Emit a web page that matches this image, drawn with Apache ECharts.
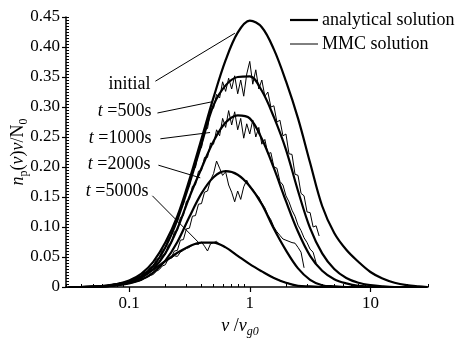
<!DOCTYPE html>
<html><head><meta charset="utf-8">
<script src="https://cdn.jsdelivr.net/npm/echarts@6/dist/echarts.min.js"></script>
<style>html,body{margin:0;padding:0;background:#fff}#c{width:455px;height:343px}</style>
</head><body><div id="c"></div>
<script>
// x positions are log10(v/vg0)
const log10V = [-1.5,-1.4,-1.3,-1.2,-1.1,-1.0,-0.9,-0.8,-0.7,-0.6,-0.5,-0.4,-0.3,-0.2,-0.1,0,0.1,0.2,0.3,0.4,0.5,0.6,0.7,0.8,0.9,1.0,1.1,1.2,1.3,1.4,1.47];
const initial = [0,0,0.001,0.002,0.005,0.011,0.022,0.042,0.074,0.118,0.179,0.247,0.316,0.378,0.424,0.444,0.433,0.396,0.343,0.281,0.207,0.135,0.090,0.062,0.042,0.025,0.014,0.007,0.003,0.001,0];
const t500 = [0,0,0.001,0.002,0.005,0.009,0.018,0.035,0.066,0.112,0.172,0.238,0.303,0.336,0.350,0.351,0.327,0.283,0.229,0.160,0.098,0.056,0.030,0.015,0.007,0.003,0.001,0,0,0,0];
const t1000 = [0,0,0,0.001,0.003,0.007,0.015,0.030,0.056,0.097,0.150,0.198,0.243,0.274,0.286,0.281,0.247,0.198,0.143,0.092,0.052,0.027,0.013,0.006,0.002,0.001,0,0,0,0,0];
const t2000 = [0,0,0,0.001,0.003,0.006,0.012,0.024,0.044,0.075,0.117,0.156,0.183,0.193,0.187,0.168,0.138,0.097,0.061,0.031,0.012,0.003,0.001,0,0,0,0,0,0,0,0];
const t5000 = [0,0,0,0.001,0.004,0.009,0.017,0.029,0.043,0.057,0.068,0.074,0.074,0.066,0.052,0.038,0.026,0.015,0.007,0.002,0.001,0,0,0,0,0,0,0,0,0,0];

const log10VMmc = [-1.2,-1.175,-1.15,-1.125,-1.1,-1.075,-1.05,-1.025,-1.0,-0.975,-0.95,-0.925,-0.9,-0.875,-0.85,-0.825,-0.8,-0.775,-0.75,-0.725,-0.7,-0.675,-0.65,-0.625,-0.6,-0.575,-0.55,-0.525,-0.5,-0.475,-0.45,-0.425,-0.4,-0.375,-0.35,-0.325,-0.3,-0.275,-0.25,-0.225,-0.2,-0.175,-0.15,-0.125,-0.1,-0.075,-0.05,-0.025,0,0.025,0.05,0.075,0.1,0.125,0.15,0.175,0.2,0.225,0.25,0.275,0.3,0.325,0.35,0.375,0.4,0.425,0.45,0.475,0.5,0.525,0.55,0.575,0.6];
const mmc500 = [0.002,0.003,0.003,0.005,0.004,0.007,0.006,0.009,0.008,0.012,0.013,0.018,0.017,0.024,0.025,0.033,0.034,0.046,0.048,0.062,0.064,0.081,0.086,0.105,0.108,0.132,0.138,0.163,0.168,0.194,0.199,0.228,0.232,0.262,0.264,0.294,0.298,0.321,0.315,0.342,0.326,0.348,0.330,0.352,0.322,0.345,0.318,0.355,0.376,0.338,0.362,0.330,0.345,0.318,0.325,0.300,0.302,0.275,0.278,0.252,0.255,0.222,0.221,0.188,0.186,0.156,0.152,0.125,0.124,0.100,0.102,0.085,null];
const mmc1000 = [0.001,0.002,0.002,0.003,0.003,0.005,0.005,0.007,0.007,0.010,0.010,0.014,0.014,0.020,0.021,0.028,0.029,0.039,0.041,0.053,0.054,0.070,0.073,0.092,0.094,0.116,0.119,0.143,0.146,0.168,0.170,0.193,0.194,0.216,0.216,0.240,0.238,0.262,0.252,0.281,0.266,0.294,0.270,0.292,0.262,0.281,0.248,0.272,0.255,0.278,0.250,0.266,0.238,0.246,0.222,0.224,0.200,0.198,0.176,0.170,0.152,0.142,0.128,0.118,0.103,0.094,0.082,0.074,0.063,0.058,0.040,null,null];
const mmc2000 = [0.001,0.001,0.002,0.002,0.003,0.003,0.004,0.005,0.006,0.007,0.008,0.010,0.011,0.014,0.016,0.019,0.021,0.026,0.029,0.035,0.037,0.047,0.049,0.060,0.061,0.078,0.079,0.097,0.098,0.118,0.119,0.138,0.139,0.158,0.160,0.178,0.189,0.210,0.198,0.186,0.192,0.170,0.158,0.142,0.160,0.146,0.167,0.178,0.166,0.163,0.155,0.150,0.140,0.132,0.120,0.112,0.100,0.092,0.086,0.080,0.078,0.076,0.074,0.073,0.066,0.058,0.032,null,null,null,null,null,null];
const mmc5000 = [0.001,0.002,0.002,0.003,0.004,0.005,0.006,0.008,0.009,0.011,0.013,0.015,0.017,0.020,0.022,0.027,0.028,0.034,0.035,0.041,0.042,0.047,0.048,0.052,0.051,0.058,0.061,0.064,0.066,0.070,0.072,0.071,0.075,0.068,0.060,0.072,0.074,0.076,0.071,0.069,0.066,0.063,0.059,0.056,0.052,0.049,0.045,0.042,0.038,0.035,0.032,0.029,0.026,0.023,0.020,0.018,0.015,0.013,0.011,0.009,0.007,0.006,0.004,0.003,0.002,0.002,0.001,0.001,0.001,null,null,null,null];

const xLabelTicks = [0.1, 1, 10];
const xMinorTicks = [0.03,0.04,0.05,0.06,0.07,0.08,0.09,0.2,0.3,0.4,0.5,0.6,0.7,0.8,0.9,2,3,4,5,6,7,8,9,20,30];
const xMin = 0.03, xMax = 30;
const yMin = 0, yMax = 0.45, yStep = 0.05, yMinorStep = 0.005;
const legendNames = ['analytical solution', 'MMC solution'];

const annotations = [
  {text:'initial',            at:[-0.807,0.338], from:[-0.782,0.343], to:[-0.123,0.423]},
  {text:'{i|t} =500s',        at:[-0.798,0.293], from:[-0.765,0.290], to:[-0.305,0.309]},
  {text:'{i|t} =1000s',       at:[-0.798,0.248], from:[-0.741,0.247], to:[-0.329,0.2575]},
  {text:'{i|t} =2000s',       at:[-0.807,0.205], from:[-0.757,0.203], to:[-0.410,0.182]},
  {text:'{i|t} =5000s',       at:[-0.823,0.160], from:[-0.807,0.152], to:[-0.428,0.075]}
];

const FONT = 'Liberation Serif';
const THICK = 2.2, THIN = 1;
const pair = (xs, ys) => xs.map((x,i)=>[x, ys[i]]).filter(p => p[1] !== null);

function analytic(ys, extra) {
  return Object.assign({
    type:'line', name:legendNames[0], data: pair(log10V, ys),
    xAxisIndex:0, yAxisIndex:0, symbol:'none', showSymbol:false, smooth:0.35,
    lineStyle:{color:'#000', width:THICK}, itemStyle:{color:'#000'}, z:4, silent:true
  }, extra || {});
}
function mmc(ys) {
  return {
    type:'line', name:legendNames[1], data: pair(log10VMmc, ys),
    xAxisIndex:0, yAxisIndex:0, symbol:'none', showSymbol:false, smooth:false,
    lineStyle:{color:'#000', width:THIN}, itemStyle:{color:'#000'}, z:3, silent:true
  };
}

const legendGraphic = [];
legendNames.forEach((nm, i) => {
  const y = 20 + i * 24;
  legendGraphic.push({type:'line', shape:{x1:290, y1:y, x2:318, y2:y}, style:{stroke:'#000', lineWidth: i === 0 ? THICK : THIN}, silent:true});
  legendGraphic.push({type:'text', x:322, y:y, style:{text:nm, fontFamily:FONT, fontSize:18, fill:'#000', verticalAlign:'middle', align:'left'}, silent:true});
});

const chart = echarts.init(document.getElementById('c'), null, {renderer:'canvas'});
chart.setOption({
  animation:false,
  backgroundColor:'#fff',
  grid:{left:66, right:27, top:17, bottom:56, containLabel:false, outerBoundsMode:'none'},
  legend:{show:false},
  graphic:legendGraphic,
  xAxis:[{
    type:'value', position:'bottom', min:Math.log10(xMin), max:Math.log10(xMax),
    axisLine:{show:true, onZero:false, lineStyle:{color:'#000', width:1.5}},
    axisTick:{show:true, inside:false, length:5, customValues:xLabelTicks.map(Math.log10), lineStyle:{color:'#000', width:1.2}},
    axisLabel:{show:true, customValues:xLabelTicks.map(Math.log10), margin:8, fontFamily:FONT, fontSize:17, color:'#000',
      formatter:v => { const p = Math.pow(10, v); return p < 1 ? p.toFixed(1) : String(Math.round(p)); }},
    splitLine:{show:false},
    name:'{i|v}{r| /}{i|v}{s|g0}', nameLocation:'middle', nameGap:21,
    nameTextStyle:{fontFamily:FONT, fontSize:18, color:'#000', padding:[0,14,0,0],
      rich:{i:{fontFamily:FONT, fontStyle:'italic', fontSize:18, lineHeight:24, verticalAlign:'middle'},
            r:{fontFamily:FONT, fontSize:18, lineHeight:24, verticalAlign:'middle'},
            s:{fontFamily:FONT, fontStyle:'italic', fontSize:12, lineHeight:24, verticalAlign:'bottom'}}}
  },{
    type:'value', position:'bottom', min:Math.log10(xMin), max:Math.log10(xMax),
    axisLine:{show:false, onZero:false},
    axisTick:{show:true, inside:true, length:3, customValues:xMinorTicks.map(Math.log10), lineStyle:{color:'#000', width:1}},
    axisLabel:{show:false}, splitLine:{show:false}
  }],
  yAxis:[{
    type:'value', position:'left', min:yMin, max:yMax, interval:yStep,
    axisLine:{show:true, onZero:false, lineStyle:{color:'#000', width:1.5}},
    axisTick:{show:true, inside:false, length:4, lineStyle:{color:'#000', width:1.2}},
    axisLabel:{show:true, margin:6, fontFamily:FONT, fontSize:17, color:'#000',
      formatter:v => v === 0 ? '0' : v.toFixed(2)},
    splitLine:{show:false},
    name:'{i|n}{s|p}{r|(}{i|v}{r|)}{i|v}{r|/N}{s|0}', nameLocation:'middle', nameRotate:90, nameGap:36,
    nameMoveOverlap:false,
    nameTextStyle:{fontFamily:FONT, fontSize:18, color:'#000',
      rich:{i:{fontFamily:FONT, fontStyle:'italic', fontSize:18, lineHeight:24, verticalAlign:'middle'},
            r:{fontFamily:FONT, fontSize:18, lineHeight:24, verticalAlign:'middle'},
            s:{fontFamily:FONT, fontSize:12, lineHeight:24, verticalAlign:'bottom'}}}
  },{
    type:'value', position:'left', min:yMin, max:yMax, interval:yMinorStep,
    axisLine:{show:false, onZero:false},
    axisTick:{show:true, inside:true, length:3, lineStyle:{color:'#000', width:1}},
    axisLabel:{show:false}, splitLine:{show:false}
  }],
  series:[
    mmc(mmc500), mmc(mmc1000), mmc(mmc2000), mmc(mmc5000),
    analytic(initial, {
      markLine:{silent:true, symbol:['none','none'], animation:false,
        label:{show:false}, lineStyle:{color:'#000', width:1, type:'solid'},
        emphasis:{disabled:true},
        data: annotations.map(a => [{coord:a.from}, {coord:a.to}])},
      markPoint:{silent:true, symbol:'circle', symbolSize:0, animation:false,
        label:{show:true, position:'left', distance:2, formatter:'{b}', fontFamily:FONT, fontSize:18, color:'#000',
          rich:{i:{fontFamily:FONT, fontStyle:'italic', fontSize:18, color:'#000'}}},
        data: annotations.map(a => ({name:a.text, coord:a.at}))}
    }),
    analytic(t500), analytic(t1000), analytic(t2000), analytic(t5000)
  ]
});
</script></body></html>
